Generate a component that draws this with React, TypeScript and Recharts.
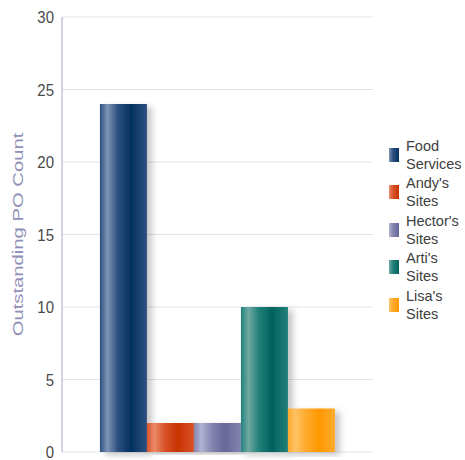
import React from 'react'
import { Bar, BarChart, CartesianGrid, Legend, XAxis, YAxis } from 'recharts'

const seriesNames = ["Food Services", "Andy's Sites", "Hector's Sites", "Arti's Sites", "Lisa's Sites"]
const seriesValues = [24, 2, 2, 10, 3]
const yTicks = [0, 5, 10, 15, 20, 25, 30]

// [highlight, base, dark] for the shaded bar look
const palette = [
    ['#7d93b4', '#2d5180', '#02305f'],
    ['#eb8a66', '#d9532a', '#c83300'],
    ['#b2b2d2', '#8585b0', '#66669a'],
    ['#6fa8a2', '#22807a', '#00635d'],
    ['#ffc266', '#ffaa2e', '#ff9900'],
]

const row: Record<string, number | string> = { name: '' }
seriesNames.forEach((n, i) => { row[n] = seriesValues[i] })
const chartData = [row]

const font = '"Liberation Sans", Arial, sans-serif'

const YTick = (props: any) => {
    const { x, y, payload } = props
    return (
        <g transform={`translate(${x},${y}) scale(1,1.12)`}>
            <text x={0} y={0} dy="0.36em" textAnchor="end" fontSize={15} fill="#4a4a4a" fontFamily={font}>
                {payload.value}
            </text>
        </g>
    )
}

const YLabel = (props: any) => {
    const { viewBox } = props
    const cy = viewBox.y + viewBox.height / 2
    return (
        <text
            transform={`translate(18,${cy}) rotate(-90) scale(1.5,1.05)`}
            textAnchor="middle"
            dy="0.36em"
            fontSize={13.5}
            fill="#9090b8"
            fontFamily={font}
        >
            Outstanding PO Count
        </text>
    )
}

const LegendBox = () => (
    <div style={{ fontFamily: font, fontSize: 14.5, color: '#404040' }}>
        {seriesNames.map((n, i) => {
            const words = n.split(' ')
            return (
                <div key={n} style={{ display: 'flex', alignItems: 'center', height: 37.5 }}>
                    <div
                        style={{
                            width: 10,
                            height: 14,
                            marginRight: 7,
                            background: `linear-gradient(to right, ${palette[i][0]}, ${palette[i][1]} 40%, ${palette[i][2]})`,
                        }}
                    />
                    <div style={{ lineHeight: '18px' }}>
                        <div>{words[0]}</div>
                        <div>{words[1]}</div>
                    </div>
                </div>
            )
        })}
    </div>
)

const App = () => {
    return (
        <div style={{ position: 'absolute', left: 0, top: 0, width: 465, height: 460, background: '#fff' }}>
            <BarChart
                width={465}
                height={460}
                data={chartData}
                margin={{ top: 17, right: 92, left: 0, bottom: 8 }}
                barCategoryGap="12.2%"
                barGap={0}
            >
                <defs>
                    {palette.map((c, i) => (
                        <linearGradient key={i} id={`g${i}`} x1="0" y1="0" x2="1" y2="0">
                            <stop offset="0%" stopColor={c[1]} />
                            <stop offset="16%" stopColor={c[0]} />
                            <stop offset="38%" stopColor={c[1]} />
                            <stop offset="66%" stopColor={c[2]} />
                            <stop offset="100%" stopColor={c[1]} />
                        </linearGradient>
                    ))}
                    <filter id="shadow" x="-20%" y="-5%" width="150%" height="115%">
                        <feDropShadow dx="5" dy="3" stdDeviation="3" floodColor="#000" floodOpacity="0.22" />
                    </filter>
                </defs>
                <CartesianGrid vertical={false} stroke="#e2e2ec" />
                <XAxis dataKey="name" tick={false} tickLine={false} height={0} axisLine={{ stroke: '#9a9abc', strokeWidth: 1.5 }} />
                <YAxis
                    domain={[0, 30]}
                    ticks={yTicks}
                    interval={0}
                    width={62}
                    tickLine={false}
                    axisLine={{ stroke: '#a8a8c8' }}
                    tick={<YTick />}
                    label={<YLabel />}
                />
                <Legend
                    layout="horizontal"
                    verticalAlign="middle"
                    align="center"
                    content={<LegendBox />}
                    wrapperStyle={{ position: 'absolute', left: 389, top: 136, width: 76 }}
                />
                {seriesNames.map((n, i) => (
                    <Bar key={n} dataKey={n} fill={`url(#g${i})`} filter="url(#shadow)" isAnimationActive={false} />
                ))}
            </BarChart>
        </div>
    )
}

export default App
